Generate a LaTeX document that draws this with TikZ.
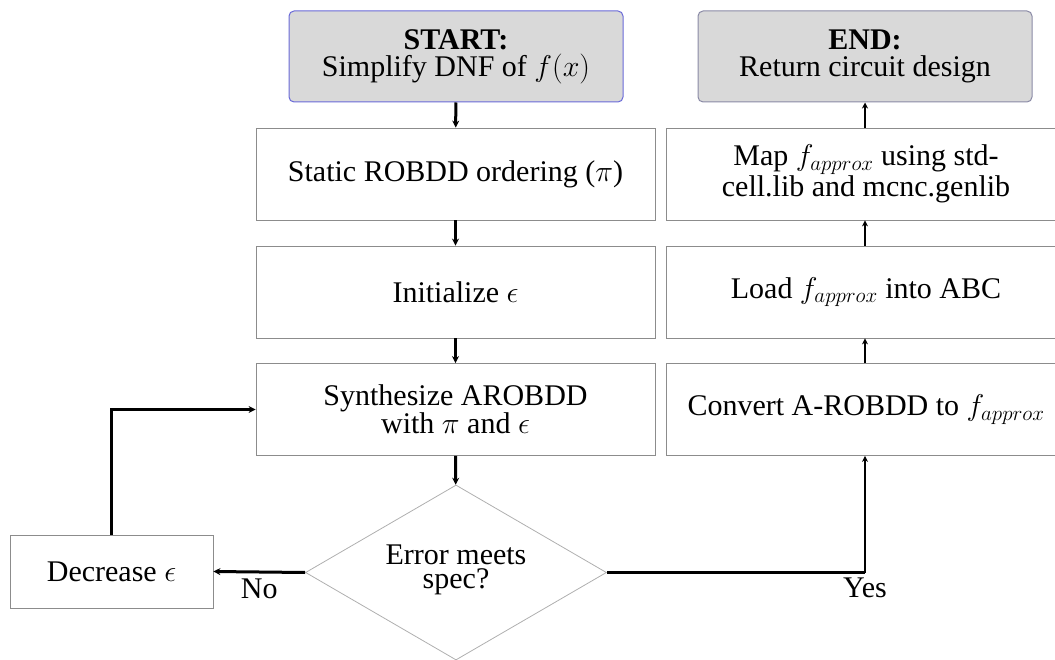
\documentclass[tikz,border=0pt]{standalone}
\usepackage{fix-cm}
\usepackage{fontspec}
\setmainfont{Liberation Serif}
\usetikzlibrary{shapes.geometric,arrows.meta}
\definecolor{boxgray}{HTML}{8C8C8C}
\definecolor{termfill}{HTML}{D9D9D9}
\definecolor{startborder}{HTML}{6A6AD8}
\definecolor{endborder}{HTML}{8A8AA6}
\tikzset{
  txt/.style={font=\fontsize{30}{27}\selectfont},
  stepbox/.style={txt, draw=boxgray, line width=0.8pt, fill=white, minimum width=399pt, minimum height=92pt, inner sep=0pt, align=center},
  rbox/.style={stepbox, minimum width=400pt},
  term/.style={txt, draw=#1, fill=termfill, line width=1pt, rounded corners=5pt, minimum width=334pt, minimum height=91pt, inner sep=0pt, align=center},
  decision/.style={diamond, draw=boxgray!70, line width=0.8pt, minimum width=301pt, minimum height=175pt, inner sep=0pt},
  flow/.style={line width=3pt, -{Stealth[length=7pt,width=7pt]}},
  rflow/.style={line width=2.2pt, -{Stealth[length=6pt,width=6pt]}},
  lbl/.style={txt, inner sep=0pt}
}
\begin{document}
\begin{tikzpicture}[x=1pt,y=-1pt]
\useasboundingbox (0,0) rectangle (1055,660);
\clip (0,0) rectangle (1055,660);
\node[term=startborder] (start) at (456,56.5) {\textbf{START:}\\Simplify DNF of $f(x)$};
\node[term=endborder] (end) at (865,56.5) {\textbf{END:}\\Return circuit design};
\node[stepbox] (order) at (455.5,174) {Static ROBDD ordering ($\pi$)};
\node[stepbox] (init) at (455.5,292) {Initialize $\epsilon$};
\node[stepbox] (synth) at (455.5,409.5) {Synthesize AROBDD\\with $\pi$ and $\epsilon$};
\node[rbox] (map) at (866,174) {Map $f_{approx}$ using std-\\cell.lib and mcnc.genlib};
\node[rbox] (load) at (866,292) {Load $f_{approx}$ into ABC};
\node[rbox] (conv) at (866,409.5) {Convert A-ROBDD to $f_{approx}$};
\node[decision] (dec) at (456,572.5) {};
\node[font=\fontsize{30}{24}\selectfont, align=center, inner sep=0pt] (dectext) at (456,570) {Error meets\\spec?};
\node[txt, draw=boxgray, line width=0.8pt, minimum width=203pt, minimum height=73pt, inner sep=0pt] (decr) at (111.5,571.5) {Decrease $\epsilon$};
\coordinate (yescorner) at (865,572.5);
\draw[flow] (start) -- (order);
\draw[flow] (order) -- (init);
\draw[flow] (init) -- (synth);
\draw[flow] (synth) -- (dec);
\draw[flow] (dec.west) -- (decr.east) node[lbl, pos=0.5, below=5pt] {No};
\draw[flow] (decr.north) |- (synth.west);
\draw[line width=3pt] (dec.east) -- (yescorner);
\draw[rflow] (yescorner) -- (yescorner |- conv.south);
\node[lbl, below=5pt] (yes) at (yescorner) {Yes};
\draw[rflow] (conv.north -| end.south) -- (load.south -| end.south);
\draw[rflow] (load.north -| end.south) -- (map.south -| end.south);
\draw[rflow] (map.north -| end.south) -- (end.south);
\end{tikzpicture}
\end{document}
